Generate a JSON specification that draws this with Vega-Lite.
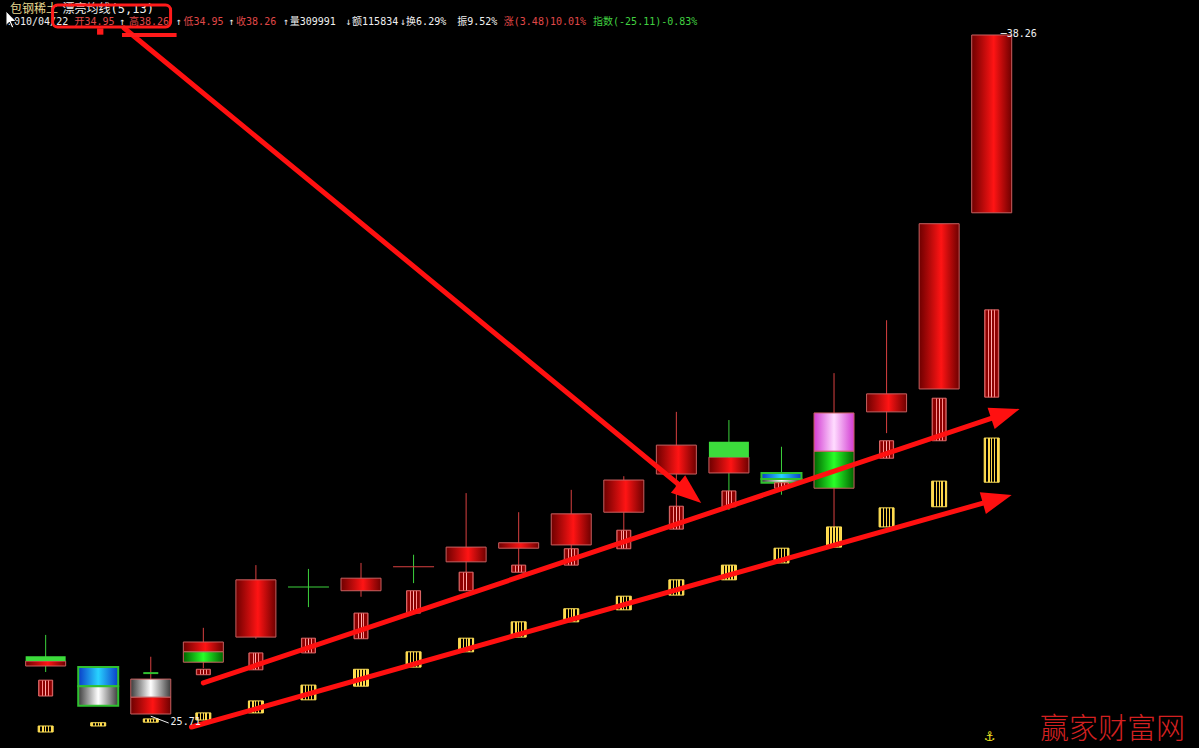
{
  "$schema": "https://vega.github.io/schema/vega-lite/v6.json",
  "width": 1199,
  "height": 748,
  "padding": 0,
  "autosize": {"type": "none"},
  "background": "#000000",
  "config": {"view": {"stroke": null}},
  "datasets": {
    "bodies": [
      {"day": 0, "lo": 26.78, "hi": 26.87, "kind": "greenSolid"},
      {"day": 0, "lo": 26.69, "hi": 26.78, "kind": "red"},
      {"day": 1, "lo": 26.32, "hi": 26.67, "kind": "blueG"},
      {"day": 1, "lo": 25.96, "hi": 26.32, "kind": "silverG"},
      {"day": 2, "lo": 26.12, "hi": 26.45, "kind": "silver"},
      {"day": 2, "lo": 25.81, "hi": 26.12, "kind": "red"},
      {"day": 3, "lo": 26.95, "hi": 27.13, "kind": "red"},
      {"day": 3, "lo": 26.76, "hi": 26.95, "kind": "green"},
      {"day": 4, "lo": 27.22, "hi": 28.27, "kind": "red"},
      {"day": 6, "lo": 28.07, "hi": 28.30, "kind": "red"},
      {"day": 8, "lo": 28.60, "hi": 28.87, "kind": "red"},
      {"day": 9, "lo": 28.85, "hi": 28.95, "kind": "red"},
      {"day": 10, "lo": 28.91, "hi": 29.48, "kind": "red"},
      {"day": 11, "lo": 29.51, "hi": 30.10, "kind": "red"},
      {"day": 12, "lo": 30.21, "hi": 30.74, "kind": "red"},
      {"day": 13, "lo": 30.52, "hi": 30.80, "kind": "greenSolid"},
      {"day": 13, "lo": 30.23, "hi": 30.52, "kind": "red"},
      {"day": 14, "lo": 30.12, "hi": 30.23, "kind": "blueG"},
      {"day": 14, "lo": 30.05, "hi": 30.12, "kind": "silverG"},
      {"day": 15, "lo": 30.63, "hi": 31.33, "kind": "pink"},
      {"day": 15, "lo": 29.95, "hi": 30.63, "kind": "green"},
      {"day": 16, "lo": 31.35, "hi": 31.68, "kind": "red"},
      {"day": 17, "lo": 31.77, "hi": 34.80, "kind": "red"},
      {"day": 18, "lo": 35.00, "hi": 38.26, "kind": "red"}
    ],
    "wicks": [
      {"day": 0, "lo": 26.58, "hi": 27.26, "tone": "down"},
      {"day": 2, "lo": 25.81, "hi": 26.86, "tone": "up"},
      {"day": 3, "lo": 26.65, "hi": 27.39, "tone": "up"},
      {"day": 4, "lo": 27.19, "hi": 28.54, "tone": "up"},
      {"day": 5, "lo": 27.77, "hi": 28.47, "tone": "down"},
      {"day": 6, "lo": 27.96, "hi": 28.58, "tone": "up"},
      {"day": 7, "lo": 28.21, "hi": 28.73, "tone": "down"},
      {"day": 8, "lo": 28.41, "hi": 29.86, "tone": "up"},
      {"day": 9, "lo": 28.41, "hi": 29.51, "tone": "up"},
      {"day": 10, "lo": 28.54, "hi": 29.92, "tone": "up"},
      {"day": 11, "lo": 29.18, "hi": 30.17, "tone": "up"},
      {"day": 12, "lo": 29.62, "hi": 31.35, "tone": "up"},
      {"day": 13, "lo": 29.55, "hi": 31.20, "tone": "down"},
      {"day": 14, "lo": 29.83, "hi": 30.71, "tone": "down"},
      {"day": 15, "lo": 29.24, "hi": 32.06, "tone": "up"},
      {"day": 16, "lo": 30.96, "hi": 33.03, "tone": "up"}
    ],
    "doji": [
      {"day": 5, "price": 28.14, "tone": "down"},
      {"day": 7, "price": 28.51, "tone": "up"}
    ],
    "ma5": [
      {"day": 0, "lo": 26.14, "hi": 26.43},
      {"day": 3, "lo": 26.53, "hi": 26.63},
      {"day": 4, "lo": 26.62, "hi": 26.93},
      {"day": 5, "lo": 26.93, "hi": 27.20},
      {"day": 6, "lo": 27.19, "hi": 27.66},
      {"day": 7, "lo": 27.66, "hi": 28.07},
      {"day": 8, "lo": 28.07, "hi": 28.41},
      {"day": 9, "lo": 28.41, "hi": 28.54},
      {"day": 10, "lo": 28.54, "hi": 28.84},
      {"day": 11, "lo": 28.84, "hi": 29.18},
      {"day": 12, "lo": 29.20, "hi": 29.62},
      {"day": 13, "lo": 29.61, "hi": 29.90},
      {"day": 14, "lo": 29.95, "hi": 30.05},
      {"day": 16, "lo": 30.50, "hi": 30.82},
      {"day": 17, "lo": 30.82, "hi": 31.60},
      {"day": 18, "lo": 31.62, "hi": 33.22}
    ],
    "ma13": [
      {"day": 0, "lo": 25.48, "hi": 25.59},
      {"day": 1, "lo": 25.59, "hi": 25.65},
      {"day": 2, "lo": 25.66, "hi": 25.72},
      {"day": 3, "lo": 25.70, "hi": 25.83},
      {"day": 4, "lo": 25.83, "hi": 26.05},
      {"day": 5, "lo": 26.07, "hi": 26.34},
      {"day": 6, "lo": 26.32, "hi": 26.63},
      {"day": 7, "lo": 26.67, "hi": 26.95},
      {"day": 8, "lo": 26.95, "hi": 27.20},
      {"day": 9, "lo": 27.22, "hi": 27.50},
      {"day": 10, "lo": 27.50, "hi": 27.74},
      {"day": 11, "lo": 27.72, "hi": 27.97},
      {"day": 12, "lo": 27.99, "hi": 28.27},
      {"day": 13, "lo": 28.27, "hi": 28.54},
      {"day": 14, "lo": 28.58, "hi": 28.85},
      {"day": 15, "lo": 28.87, "hi": 29.24},
      {"day": 16, "lo": 29.24, "hi": 29.59},
      {"day": 17, "lo": 29.61, "hi": 30.08},
      {"day": 18, "lo": 30.06, "hi": 30.87}
    ],
    "arrows": [
      {"id": "a1", "seq": 0, "day": 1.491, "price": 38.388},
      {"id": "a1", "seq": 1, "day": 12.253, "price": 29.853},
      {"id": "a2", "seq": 0, "day": 3.0, "price": 26.379},
      {"id": "a2", "seq": 1, "day": 18.26, "price": 31.316},
      {"id": "a3", "seq": 0, "day": 2.774, "price": 25.572},
      {"id": "a3", "seq": 1, "day": 18.106, "price": 29.751}
    ],
    "texts": [
      {"day": -0.679, "price": 38.737, "text": "包钢稀土", "role": "name", "line": 1},
      {"day": 0.321, "price": 38.737, "text": "漂亮均线(5,13)", "role": "white", "line": 1},
      {"day": -0.717, "price": 38.498, "text": "2010/04/22", "role": "white", "line": 2},
      {"day": 0.547, "price": 38.498, "text": "开34.95", "role": "red", "line": 2},
      {"day": 1.396, "price": 38.498, "text": "↑", "role": "white", "line": 2},
      {"day": 1.585, "price": 38.498, "text": "高38.26", "role": "red", "line": 2},
      {"day": 2.472, "price": 38.498, "text": "↑", "role": "white", "line": 2},
      {"day": 2.623, "price": 38.498, "text": "低34.95", "role": "red", "line": 2},
      {"day": 3.472, "price": 38.498, "text": "↑", "role": "white", "line": 2},
      {"day": 3.623, "price": 38.498, "text": "收38.26", "role": "red", "line": 2},
      {"day": 4.509, "price": 38.498, "text": "↑", "role": "white", "line": 2},
      {"day": 4.642, "price": 38.498, "text": "量309991", "role": "white", "line": 2},
      {"day": 5.698, "price": 38.498, "text": "↓", "role": "white", "line": 2},
      {"day": 5.830, "price": 38.498, "text": "额115834", "role": "white", "line": 2},
      {"day": 6.736, "price": 38.498, "text": "↓", "role": "white", "line": 2},
      {"day": 6.858, "price": 38.498, "text": "换6.29%", "role": "white", "line": 2},
      {"day": 7.830, "price": 38.498, "text": "振9.52%", "role": "white", "line": 2},
      {"day": 8.717, "price": 38.498, "text": "涨(3.48)10.01%", "role": "red", "line": 2},
      {"day": 10.415, "price": 38.498, "text": "指数(-25.11)-0.83%", "role": "green", "line": 2},
      {"day": 18.17, "price": 38.278, "text": "─38.26", "role": "white", "line": 2},
      {"day": 2.377, "price": 25.663, "text": "25.71", "role": "white", "line": 2}
    ]
  },
  "layer": [
    {
      "mark": {"type": "rule", "color": "#5a6868", "strokeWidth": 1},
      "encoding": {"y": {"datum": 25.2416, "type": "quantitative", "scale": {"domain": [25.1866, 38.9018], "nice": false, "zero": false}, "axis": null}}
    },
    {
      "mark": {"type": "rule", "color": "#5a6868", "strokeWidth": 1},
      "encoding": {"y": {"datum": 38.89, "type": "quantitative", "scale": {"domain": [25.1866, 38.9018], "nice": false, "zero": false}, "axis": null}}
    },
    {
      "mark": {"type": "rule", "color": "#5a6868", "strokeWidth": 1},
      "encoding": {"x": {"datum": -0.755, "type": "quantitative", "scale": {"domain": [-0.7736, 21.849], "nice": false, "zero": false}, "axis": null}}
    },
    {
      "data": {"name": "wicks"},
      "mark": {"type": "rule", "strokeWidth": 1},
      "encoding": {
        "x": {"field": "day", "type": "quantitative", "scale": {"domain": [-0.7736, 21.849], "nice": false, "zero": false}, "axis": null},
        "y": {"field": "lo", "type": "quantitative", "scale": {"domain": [25.1866, 38.9018], "nice": false, "zero": false},
              "axis": {"orient": "right", "offset": -4, "labels": false, "title": null, "grid": false, "domainColor": "#5a6868", "tickColor": "#5a6868", "tickSize": 4, "tickCount": 26}},
        "y2": {"field": "hi"},
        "color": {"field": "tone", "type": "nominal", "scale": {"domain": ["up", "down", "name", "white", "red", "green"], "range": ["#d84040", "#3cd23c", "#e8d890", "#f0f0f0", "#e04848", "#40d040"]}, "legend": null}
      }
    },
    {
      "data": {"name": "bodies"},
      "transform": [{"filter": "datum.kind == 'red'"}],
      "mark": {"type": "bar", "width": 40, "stroke": "#c86060", "strokeWidth": 1,
               "fill": {"gradient": "linear", "x1": 0, "y1": 0, "x2": 1, "y2": 0, "stops": [{"offset": 0, "color": "#6e0000"}, {"offset": 0.55, "color": "#ff1414"}, {"offset": 1, "color": "#6e0000"}]}},
      "encoding": {
        "x": {"field": "day", "type": "quantitative", "scale": {"domain": [-0.7736, 21.849], "nice": false, "zero": false}, "axis": null},
        "y": {"field": "lo", "type": "quantitative", "scale": {"domain": [25.1866, 38.9018], "nice": false, "zero": false}, "axis": null},
        "y2": {"field": "hi"}
      }
    },
    {
      "data": {"name": "bodies"},
      "transform": [{"filter": "datum.kind == 'green'"}],
      "mark": {"type": "bar", "width": 40, "stroke": "#c86060", "strokeWidth": 1,
               "fill": {"gradient": "linear", "x1": 0, "y1": 0, "x2": 1, "y2": 0, "stops": [{"offset": 0, "color": "#006400"}, {"offset": 0.5, "color": "#28ff28"}, {"offset": 1, "color": "#006400"}]}},
      "encoding": {
        "x": {"field": "day", "type": "quantitative", "scale": {"domain": [-0.7736, 21.849], "nice": false, "zero": false}, "axis": null},
        "y": {"field": "lo", "type": "quantitative", "scale": {"domain": [25.1866, 38.9018], "nice": false, "zero": false}, "axis": null},
        "y2": {"field": "hi"}
      }
    },
    {
      "data": {"name": "bodies"},
      "transform": [{"filter": "datum.kind == 'greenSolid'"}],
      "mark": {"type": "bar", "width": 40, "fill": "#3cdc3c", "strokeWidth": 0},
      "encoding": {
        "x": {"field": "day", "type": "quantitative", "scale": {"domain": [-0.7736, 21.849], "nice": false, "zero": false}, "axis": null},
        "y": {"field": "lo", "type": "quantitative", "scale": {"domain": [25.1866, 38.9018], "nice": false, "zero": false}, "axis": null},
        "y2": {"field": "hi"}
      }
    },
    {
      "data": {"name": "bodies"},
      "transform": [{"filter": "datum.kind == 'blueG'"}],
      "mark": {"type": "bar", "width": 40, "stroke": "#30c030", "strokeWidth": 2,
               "fill": {"gradient": "linear", "x1": 0, "y1": 0, "x2": 1, "y2": 0, "stops": [{"offset": 0, "color": "#0a3cc8"}, {"offset": 0.5, "color": "#28d2ff"}, {"offset": 1, "color": "#0a3cc8"}]}},
      "encoding": {
        "x": {"field": "day", "type": "quantitative", "scale": {"domain": [-0.7736, 21.849], "nice": false, "zero": false}, "axis": null},
        "y": {"field": "lo", "type": "quantitative", "scale": {"domain": [25.1866, 38.9018], "nice": false, "zero": false}, "axis": null},
        "y2": {"field": "hi"}
      }
    },
    {
      "data": {"name": "bodies"},
      "transform": [{"filter": "datum.kind == 'silverG'"}],
      "mark": {"type": "bar", "width": 40, "stroke": "#30c030", "strokeWidth": 2,
               "fill": {"gradient": "linear", "x1": 0, "y1": 0, "x2": 1, "y2": 0, "stops": [{"offset": 0, "color": "#3c3c3c"}, {"offset": 0.5, "color": "#ffffff"}, {"offset": 1, "color": "#3c3c3c"}]}},
      "encoding": {
        "x": {"field": "day", "type": "quantitative", "scale": {"domain": [-0.7736, 21.849], "nice": false, "zero": false}, "axis": null},
        "y": {"field": "lo", "type": "quantitative", "scale": {"domain": [25.1866, 38.9018], "nice": false, "zero": false}, "axis": null},
        "y2": {"field": "hi"}
      }
    },
    {
      "data": {"name": "bodies"},
      "transform": [{"filter": "datum.kind == 'silver'"}],
      "mark": {"type": "bar", "width": 40, "stroke": "#c86060", "strokeWidth": 1,
               "fill": {"gradient": "linear", "x1": 0, "y1": 0, "x2": 1, "y2": 0, "stops": [{"offset": 0, "color": "#3c3c3c"}, {"offset": 0.5, "color": "#ffffff"}, {"offset": 1, "color": "#3c3c3c"}]}},
      "encoding": {
        "x": {"field": "day", "type": "quantitative", "scale": {"domain": [-0.7736, 21.849], "nice": false, "zero": false}, "axis": null},
        "y": {"field": "lo", "type": "quantitative", "scale": {"domain": [25.1866, 38.9018], "nice": false, "zero": false}, "axis": null},
        "y2": {"field": "hi"}
      }
    },
    {
      "data": {"name": "bodies"},
      "transform": [{"filter": "datum.kind == 'pink'"}],
      "mark": {"type": "bar", "width": 40, "stroke": "#c86060", "strokeWidth": 1,
               "fill": {"gradient": "linear", "x1": 0, "y1": 0, "x2": 1, "y2": 0, "stops": [{"offset": 0, "color": "#d23cd2"}, {"offset": 0.5, "color": "#ffdcff"}, {"offset": 1, "color": "#d23cd2"}]}},
      "encoding": {
        "x": {"field": "day", "type": "quantitative", "scale": {"domain": [-0.7736, 21.849], "nice": false, "zero": false}, "axis": null},
        "y": {"field": "lo", "type": "quantitative", "scale": {"domain": [25.1866, 38.9018], "nice": false, "zero": false}, "axis": null},
        "y2": {"field": "hi"}
      }
    },
    {
      "data": {"name": "doji"},
      "mark": {"type": "tick", "orient": "horizontal", "size": 41, "thickness": 1, "opacity": 1},
      "encoding": {
        "x": {"field": "day", "type": "quantitative", "scale": {"domain": [-0.7736, 21.849], "nice": false, "zero": false}, "axis": null},
        "y": {"field": "price", "type": "quantitative", "scale": {"domain": [25.1866, 38.9018], "nice": false, "zero": false}, "axis": null},
        "color": {"field": "tone", "type": "nominal", "scale": {"domain": ["up", "down", "name", "white", "red", "green"], "range": ["#d84040", "#3cd23c", "#e8d890", "#f0f0f0", "#e04848", "#40d040"]}, "legend": null}
      }
    },
    {
      "data": {"values": [{"day": 2, "price": 26.56}]},
      "mark": {"type": "tick", "orient": "horizontal", "size": 15, "thickness": 2, "color": "#30c030", "opacity": 1},
      "encoding": {
        "x": {"field": "day", "type": "quantitative", "scale": {"domain": [-0.7736, 21.849], "nice": false, "zero": false}, "axis": null},
        "y": {"field": "price", "type": "quantitative", "scale": {"domain": [25.1866, 38.9018], "nice": false, "zero": false}, "axis": null}
      }
    },
    {
      "data": {"name": "ma5"},
      "mark": {"type": "bar", "width": 14, "stroke": "#e06868", "strokeWidth": 1,
               "fill": {"gradient": "linear", "x1": 0, "y1": 0, "x2": 1, "y2": 0, "stops": [
                 {"offset": 0, "color": "#d25050"}, {"offset": 0.1, "color": "#8c0000"}, {"offset": 0.27, "color": "#8c0000"},
                 {"offset": 0.27, "color": "#ff8c8c"}, {"offset": 0.34, "color": "#ff8c8c"}, {"offset": 0.34, "color": "#8c0000"},
                 {"offset": 0.47, "color": "#8c0000"}, {"offset": 0.47, "color": "#ffb0b0"}, {"offset": 0.54, "color": "#ffb0b0"},
                 {"offset": 0.54, "color": "#8c0000"}, {"offset": 0.67, "color": "#8c0000"}, {"offset": 0.67, "color": "#ff8c8c"},
                 {"offset": 0.74, "color": "#ff8c8c"}, {"offset": 0.74, "color": "#8c0000"}, {"offset": 0.9, "color": "#8c0000"},
                 {"offset": 1, "color": "#d25050"}]}},
      "encoding": {
        "x": {"field": "day", "type": "quantitative", "scale": {"domain": [-0.7736, 21.849], "nice": false, "zero": false}, "axis": null},
        "y": {"field": "lo", "type": "quantitative", "scale": {"domain": [25.1866, 38.9018], "nice": false, "zero": false}, "axis": null},
        "y2": {"field": "hi"}
      }
    },
    {
      "data": {"name": "ma13"},
      "mark": {"type": "bar", "width": 15, "stroke": "#ffe25a", "strokeWidth": 1,
               "fill": {"gradient": "linear", "x1": 0, "y1": 0, "x2": 1, "y2": 0, "stops": [
                 {"offset": 0, "color": "#ffd84a"}, {"offset": 0.14, "color": "#ffd84a"}, {"offset": 0.14, "color": "#000000"},
                 {"offset": 0.26, "color": "#000000"}, {"offset": 0.26, "color": "#ffd84a"}, {"offset": 0.36, "color": "#ffd84a"},
                 {"offset": 0.36, "color": "#000000"}, {"offset": 0.46, "color": "#000000"}, {"offset": 0.46, "color": "#ffd84a"},
                 {"offset": 0.54, "color": "#ffd84a"}, {"offset": 0.54, "color": "#000000"}, {"offset": 0.64, "color": "#000000"},
                 {"offset": 0.64, "color": "#ffd84a"}, {"offset": 0.74, "color": "#ffd84a"}, {"offset": 0.74, "color": "#000000"},
                 {"offset": 0.86, "color": "#000000"}, {"offset": 0.86, "color": "#ffd84a"}, {"offset": 1, "color": "#ffd84a"}]}},
      "encoding": {
        "x": {"field": "day", "type": "quantitative", "scale": {"domain": [-0.7736, 21.849], "nice": false, "zero": false}, "axis": null},
        "y": {"field": "lo", "type": "quantitative", "scale": {"domain": [25.1866, 38.9018], "nice": false, "zero": false}, "axis": null},
        "y2": {"field": "hi"}
      }
    },
    {
      "data": {"name": "arrows"},
      "mark": {"type": "line", "color": "#ff1010", "strokeWidth": 5, "strokeCap": "round"},
      "encoding": {
        "x": {"field": "day", "type": "quantitative", "scale": {"domain": [-0.7736, 21.849], "nice": false, "zero": false}, "axis": null},
        "y": {"field": "price", "type": "quantitative", "scale": {"domain": [25.1866, 38.9018], "nice": false, "zero": false}, "axis": null},
        "detail": {"field": "id"},
        "order": {"field": "seq"}
      }
    },
    {
      "data": {"values": [{"day": 12.253, "price": 29.853}]},
      "mark": {"type": "point", "shape": "M-1,-0.75L1,0L-1,0.75Z", "size": 900, "filled": true, "color": "#ff1010", "opacity": 1, "angle": 39.4},
      "encoding": {
        "x": {"field": "day", "type": "quantitative", "scale": {"domain": [-0.7736, 21.849], "nice": false, "zero": false}, "axis": null},
        "y": {"field": "price", "type": "quantitative", "scale": {"domain": [25.1866, 38.9018], "nice": false, "zero": false}, "axis": null}
      }
    },
    {
      "data": {"values": [{"day": 18.26, "price": 31.316}]},
      "mark": {"type": "point", "shape": "M-1,-0.75L1,0L-1,0.75Z", "size": 900, "filled": true, "color": "#ff1010", "opacity": 1, "angle": 341.6},
      "encoding": {
        "x": {"field": "day", "type": "quantitative", "scale": {"domain": [-0.7736, 21.849], "nice": false, "zero": false}, "axis": null},
        "y": {"field": "price", "type": "quantitative", "scale": {"domain": [25.1866, 38.9018], "nice": false, "zero": false}, "axis": null}
      }
    },
    {
      "data": {"values": [{"day": 18.106, "price": 29.751}]},
      "mark": {"type": "point", "shape": "M-1,-0.75L1,0L-1,0.75Z", "size": 900, "filled": true, "color": "#ff1010", "opacity": 1, "angle": 344.3},
      "encoding": {
        "x": {"field": "day", "type": "quantitative", "scale": {"domain": [-0.7736, 21.849], "nice": false, "zero": false}, "axis": null},
        "y": {"field": "price", "type": "quantitative", "scale": {"domain": [25.1866, 38.9018], "nice": false, "zero": false}, "axis": null}
      }
    },
    {
      "data": {"values": [{"day": 2.0, "price": 25.77}, {"day": 2.34, "price": 25.645}]},
      "mark": {"type": "line", "color": "#f0f0f0", "strokeWidth": 1},
      "encoding": {
        "x": {"field": "day", "type": "quantitative", "scale": {"domain": [-0.7736, 21.849], "nice": false, "zero": false}, "axis": null},
        "y": {"field": "price", "type": "quantitative", "scale": {"domain": [25.1866, 38.9018], "nice": false, "zero": false}, "axis": null}
      }
    },
    {
      "data": {"name": "texts"},
      "mark": {"type": "text", "align": "left", "baseline": "middle", "font": "DejaVu Sans Mono, Noto Sans CJK SC", "fontSize": 10},
      "encoding": {
        "x": {"field": "day", "type": "quantitative", "scale": {"domain": [-0.7736, 21.849], "nice": false, "zero": false}, "axis": null},
        "y": {"field": "price", "type": "quantitative", "scale": {"domain": [25.1866, 38.9018], "nice": false, "zero": false}, "axis": null},
        "text": {"field": "text"},
        "size": {"field": "line", "type": "ordinal", "scale": {"domain": [1, 2], "range": [12, 10]}, "legend": null},
        "color": {"field": "role", "type": "nominal", "scale": {"domain": ["up", "down", "name", "white", "red", "green"], "range": ["#d84040", "#3cd23c", "#e8d890", "#f0f0f0", "#e04848", "#40d040"]}, "legend": null}
      }
    },
    {
      "data": {"values": [{"day": 0.132, "day2": 2.377, "price": 38.81, "price2": 38.407}]},
      "mark": {"type": "rect", "fillOpacity": 0, "stroke": "#ff1a1a", "strokeWidth": 3, "cornerRadius": 5},
      "encoding": {
        "x": {"field": "day", "type": "quantitative", "scale": {"domain": [-0.7736, 21.849], "nice": false, "zero": false}, "axis": null},
        "x2": {"field": "day2"},
        "y": {"field": "price", "type": "quantitative", "scale": {"domain": [25.1866, 38.9018], "nice": false, "zero": false}, "axis": null},
        "y2": {"field": "price2"}
      }
    },
    {
      "data": {"values": [{"day": 1.453, "day2": 2.491, "price": 38.26}]},
      "mark": {"type": "rule", "color": "#ff1a1a", "strokeWidth": 4},
      "encoding": {
        "x": {"field": "day", "type": "quantitative", "scale": {"domain": [-0.7736, 21.849], "nice": false, "zero": false}, "axis": null},
        "x2": {"field": "day2"},
        "y": {"field": "price", "type": "quantitative", "scale": {"domain": [25.1866, 38.9018], "nice": false, "zero": false}, "axis": null}
      }
    },
    {
      "data": {"values": [{"day": 1.038, "price": 38.324}]},
      "mark": {"type": "point", "shape": "square", "size": 40, "filled": true, "color": "#ff1a1a", "opacity": 1},
      "encoding": {
        "x": {"field": "day", "type": "quantitative", "scale": {"domain": [-0.7736, 21.849], "nice": false, "zero": false}, "axis": null},
        "y": {"field": "price", "type": "quantitative", "scale": {"domain": [25.1866, 38.9018], "nice": false, "zero": false}, "axis": null}
      }
    },
    {
      "data": {"values": [{"day": -0.755, "price": 38.70}]},
      "mark": {"type": "point", "shape": "M0,0L0,1.5L0.35,1.15L0.6,1.75L0.8,1.65L0.55,1.08L1.05,1.08Z", "size": 380, "filled": true, "color": "#ffffff", "stroke": "#000000", "strokeWidth": 1, "opacity": 1},
      "encoding": {
        "x": {"field": "day", "type": "quantitative", "scale": {"domain": [-0.7736, 21.849], "nice": false, "zero": false}, "axis": null},
        "y": {"field": "price", "type": "quantitative", "scale": {"domain": [25.1866, 38.9018], "nice": false, "zero": false}, "axis": null}
      }
    },
    {
      "data": {"values": [{"day": 20.30, "price": 25.52, "text": "赢家财富网"}]},
      "mark": {"type": "text", "align": "center", "baseline": "middle", "font": "Noto Sans CJK SC", "fontSize": 29, "fontWeight": 300, "color": "#d42020"},
      "encoding": {
        "x": {"field": "day", "type": "quantitative", "scale": {"domain": [-0.7736, 21.849], "nice": false, "zero": false}, "axis": null},
        "y": {"field": "price", "type": "quantitative", "scale": {"domain": [25.1866, 38.9018], "nice": false, "zero": false}, "axis": null},
        "text": {"field": "text"}
      }
    },
    {
      "data": {"values": [{"day": 17.96, "price": 25.39, "text": "⚓"}]},
      "mark": {"type": "text", "align": "center", "baseline": "middle", "font": "DejaVu Sans", "fontSize": 13, "color": "#f0e020"},
      "encoding": {
        "x": {"field": "day", "type": "quantitative", "scale": {"domain": [-0.7736, 21.849], "nice": false, "zero": false}, "axis": null},
        "y": {"field": "price", "type": "quantitative", "scale": {"domain": [25.1866, 38.9018], "nice": false, "zero": false}, "axis": null},
        "text": {"field": "text"}
      }
    }
  ]
}
